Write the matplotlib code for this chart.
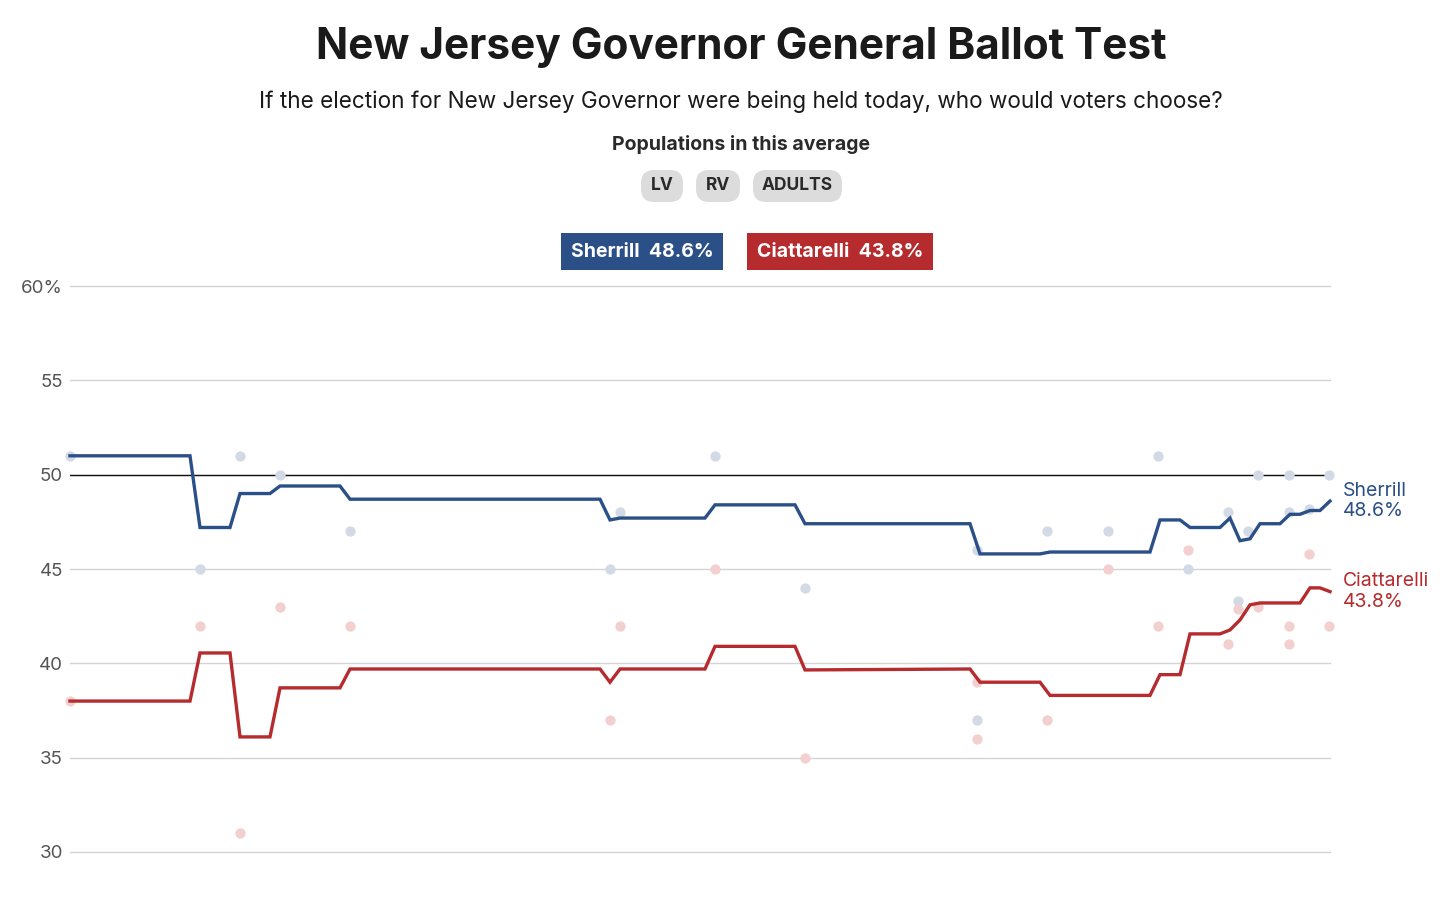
import matplotlib
matplotlib.use("Agg")
import matplotlib.pyplot as plt
from matplotlib.patches import FancyBboxPatch, Rectangle

plt.rcParams['font.family'] = ['Inter', 'DejaVu Sans']

# ---- data (x = day index within the averaging period) ----
sherrill_days = [0, 12, 13, 16, 17, 20, 21, 27, 28, 53, 54, 55, 63.5, 64.5, 72.5, 73.5,
                 90, 91, 97, 98, 108, 109, 111, 112, 115, 116, 117, 118, 119, 121, 122,
                 123, 124, 125, 126]
sherrill_avg = [51.0, 51.0, 47.2, 47.2, 49.0, 49.0, 49.4, 49.4, 48.7, 48.7, 47.6, 47.7, 47.7,
                48.4, 48.4, 47.4, 47.4, 45.8, 45.8, 45.9, 45.9, 47.6, 47.6, 47.2, 47.2, 47.7,
                46.5, 46.6, 47.4, 47.4, 47.9, 47.9, 48.1, 48.1, 48.6]

ciatt_days = [0, 12, 13, 16, 17, 20, 21, 27, 28, 53, 54, 55, 63.5, 64.5, 72.5, 73.5,
              90, 91, 97, 98, 108, 109, 111, 112, 115, 116, 117, 118, 119, 123, 124, 125, 126]
ciatt_avg = [38.0, 38.0, 40.55, 40.55, 36.1, 36.1, 38.7, 38.7, 39.7, 39.7, 39.0, 39.7, 39.7,
             40.9, 40.9, 39.65, 39.7, 39.0, 39.0, 38.3, 38.3, 39.4, 39.4, 41.56, 41.56, 41.77,
             42.3, 43.1, 43.2, 43.2, 44.0, 44.0, 43.8]

sherrill_poll_days = [0, 13, 17, 21, 28, 54, 55, 64.5, 73.5, 90.7, 90.7, 97.7, 103.8, 108.8,
                      111.8, 115.8, 116.8, 117.8, 118.8, 121.9, 121.9, 123.9, 125.9]
sherrill_polls = [51, 45, 51, 50, 47, 45, 48, 51, 44, 37, 46, 47, 47, 51,
                  45, 48, 43.3, 47, 50, 50, 48, 48.2, 50]

ciatt_poll_days = [0, 13, 17, 21, 28, 54, 55, 64.5, 73.5, 90.7, 90.7, 97.7, 103.8, 108.8,
                   111.8, 115.8, 116.8, 118.8, 121.9, 121.9, 123.9, 125.9]
ciatt_polls = [38, 42, 31, 43, 42, 37, 42, 45, 35, 36, 39, 37, 45, 42,
               46, 41, 42.9, 43, 42, 41, 45.8, 42]

y_ticks = [30, 35, 40, 45, 50, 55, 60]
y_tick_labels = ["30", "35", "40", "45", "50", "55", "60%"]
populations = ["LV", "RV", "ADULTS"]
candidates = ["Sherrill", "Ciattarelli"]
latest = [48.6, 43.8]

BLUE = "#2b4f87"
RED = "#b52b2e"
BLUE_DOT = "#d3d9e5"
RED_DOT = "#f2d0d0"

W, H = 1456, 921
fig = plt.figure(figsize=(W / 100, H / 100), dpi=100)
fig.patch.set_facecolor("white")

def fx(px):
    return px / W

def fy(py):
    return 1 - py / H

ax = fig.add_axes([fx(70), fy(852), fx(1330) - fx(70), fy(286) - fy(852)])
ax.set_xlim(0, 126)
ax.set_ylim(30, 60)
for s in ax.spines.values():
    s.set_visible(False)
ax.set_xticks([])
ax.set_yticks(y_ticks)
ax.set_yticklabels(y_tick_labels, fontsize=13.5, color="#555555")
ax.tick_params(axis="y", length=0, pad=5)
for t in y_ticks:
    ax.axhline(t, color="#d4d4d4", lw=1.0, zorder=0, clip_on=False)
ax.axhline(50, color="#111111", lw=1.0, zorder=1)

ax.scatter(sherrill_poll_days, sherrill_polls, s=55, color=BLUE_DOT, zorder=2,
           clip_on=False, linewidths=0)
ax.scatter(ciatt_poll_days, ciatt_polls, s=55, color=RED_DOT, zorder=2,
           clip_on=False, linewidths=0)
ax.plot(sherrill_days, sherrill_avg, color=BLUE, lw=2.4, zorder=3, clip_on=False,
        solid_joinstyle="miter")
ax.plot(ciatt_days, ciatt_avg, color=RED, lw=2.4, zorder=3, clip_on=False,
        solid_joinstyle="miter")

# end labels
for days, vals, name, val, c in [(sherrill_days, sherrill_avg, candidates[0], latest[0], BLUE),
                                 (ciatt_days, ciatt_avg, candidates[1], latest[1], RED)]:
    ax.annotate(f"{name}\n{val}%", xy=(days[-1], vals[-1]), xytext=(9.5, 0),
                textcoords="offset points", fontsize=14, color=c, va="center",
                ha="left", linespacing=1.2, annotation_clip=False)

# titles
fig.text(fx(741), fy(48), "New Jersey Governor General Ballot Test", ha="center",
         va="center", fontsize=30.5, fontweight="bold", color="#1a1a1a")
fig.text(fx(741), fy(102), "If the election for New Jersey Governor were being held today, who would voters choose?",
         ha="center", va="center", fontsize=16.2, color="#1a1a1a")
fig.text(fx(741), fy(144), "Populations in this average", ha="center", va="center",
         fontsize=14, fontweight="bold", color="#2a2a2a")

pill_boxes = [(641, 683), (696, 740), (753, 842)]
for (x0, x1), lab in zip(pill_boxes, populations):
    p = FancyBboxPatch((fx(x0), fy(202)), fx(x1) - fx(x0), fy(170) - fy(202),
                       boxstyle="round,pad=0,rounding_size=0.009",
                       transform=fig.transFigure, facecolor="#dcdcdc",
                       edgecolor="none", mutation_aspect=W / H)
    fig.patches.append(p)
    fig.text(fx((x0 + x1) / 2), fy(186), lab, ha="center", va="center",
             fontsize=12.5, fontweight="bold", color="#2a2a2a")

leg_boxes = [(561, 723, BLUE), (747, 933, RED)]
for (x0, x1, c), name, val in zip(leg_boxes, candidates, latest):
    r = Rectangle((fx(x0), fy(270)), fx(x1) - fx(x0), fy(233) - fy(270),
                  transform=fig.transFigure, facecolor=c, edgecolor="none")
    fig.patches.append(r)
    fig.text(fx((x0 + x1) / 2), fy(252), f"{name}  {val}%", ha="center", va="center",
             fontsize=14, fontweight="bold", color="white")

fig.savefig("out.png", dpi=100)
